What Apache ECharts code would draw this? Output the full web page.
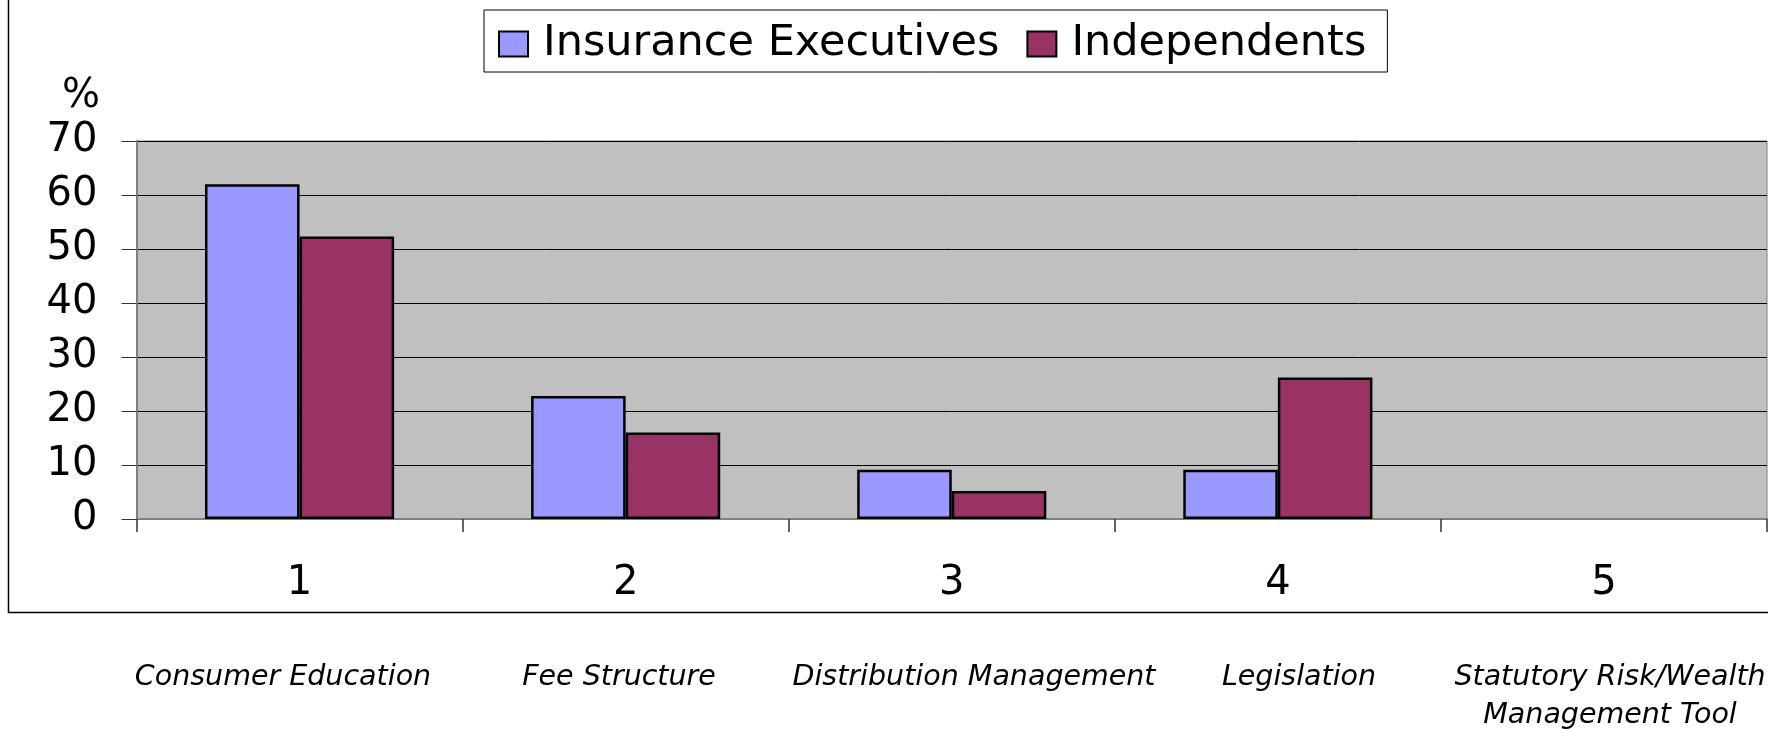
<!DOCTYPE html>
<html>
<head>
<meta charset="utf-8">
<script src="https://cdn.jsdelivr.net/npm/echarts@6/dist/echarts.min.js"></script>
<style>
html,body{margin:0;padding:0;background:#fff;}
#chart{width:1768px;height:729px;}
</style>
</head>
<body>
<div id="chart"></div>
<script>
// ---- data ----
const categories = ['1', '2', '3', '4', '5'];
const categoryNames = ['Consumer Education', 'Fee Structure', 'Distribution Management', 'Legislation', 'Statutory Risk/Wealth\nManagement Tool'];
const seriesNames = ['Insurance Executives', 'Independents'];
const insuranceExecutives = [62, 22.8, 9.1, 9.1, null];
const independents = [52.3, 16.0, 5.2, 26.2, null];
const yTicks = [0, 10, 20, 30, 40, 50, 60, 70];

// ---- layout (not data) ----
const FONT = 'DejaVu Sans';
const nameX = [283, 619, 974, 1299, 1610];
const nameY = 659;

const chart = echarts.init(document.getElementById('chart'), null, {renderer: 'canvas'});

const graphics = [
  {type: 'rect', shape: {x: 8.5, y: -2, width: 1800, height: 614.5}, style: {fill: 'none', stroke: '#000', lineWidth: 1.5}, z: 0, silent: true},
  {type: 'text', x: 81, y: 97, style: {text: '%', font: '40px "' + FONT + '"', fill: '#000', textAlign: 'center', textVerticalAlign: 'middle'}}
];
categoryNames.forEach((n, i) => {
  graphics.push({type: 'text', x: nameX[i], y: nameY,
    style: {text: n, font: 'italic 28.5px "' + FONT + '"', fill: '#000', textAlign: 'center', textVerticalAlign: 'top', lineHeight: 38}});
});

const option = {
  animation: false,
  backgroundColor: '#fff',
  textStyle: {fontFamily: FONT},
  legend: {
    data: seriesNames,
    left: 484, top: 10,
    orient: 'horizontal',
    backgroundColor: '#fff',
    borderColor: '#000', borderWidth: 1,
    padding: [11, 21, 5, 14],
    itemWidth: 29, itemHeight: 25, itemGap: 27,
    icon: 'rect',
    itemStyle: {borderColor: '#000', borderWidth: 2},
    textStyle: {fontFamily: FONT, fontSize: 43, color: '#000', padding: [0, 0, 0, 10], lineHeight: 46}
  },
  grid: {
    left: 136.5, top: 141, right: 1, bottom: 210,
    show: true, backgroundColor: '#C0C0C0', borderColor: '#808080', borderWidth: 1,
    containLabel: false
  },
  xAxis: {
    type: 'category',
    data: categories,
    axisLine: {show: true, lineStyle: {color: '#808080', width: 2}},
    axisTick: {show: true, length: 13, lineStyle: {color: '#333', width: 1.5}},
    axisLabel: {fontFamily: FONT, fontSize: 40, color: '#000', margin: 45},
    splitLine: {show: false}
  },
  yAxis: {
    type: 'value',
    min: yTicks[0], max: yTicks[yTicks.length - 1], interval: 10,
    axisLine: {show: true, lineStyle: {color: '#808080', width: 2}},
    axisTick: {show: true, length: 15, lineStyle: {color: '#333', width: 1}},
    axisLabel: {fontFamily: FONT, fontSize: 40, color: '#000', margin: 39},
    splitLine: {show: true, lineStyle: {color: '#000', width: 1}}
  },
  series: [
    {name: seriesNames[0], type: 'bar', data: insuranceExecutives, barGap: '0%', barCategoryGap: '42%',
     itemStyle: {color: '#9999FF', borderColor: '#000', borderWidth: 2.5}},
    {name: seriesNames[1], type: 'bar', data: independents, barGap: '0%', barCategoryGap: '42%',
     itemStyle: {color: '#993366', borderColor: '#000', borderWidth: 2.5}}
  ],
  graphic: graphics
};
chart.setOption(option);
</script>
</body>
</html>
